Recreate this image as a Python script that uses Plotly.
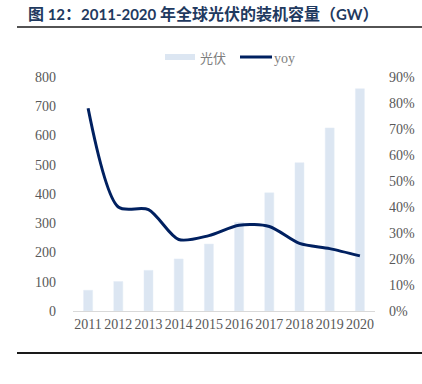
import plotly.graph_objects as go

years = ["2011", "2012", "2013", "2014", "2015", "2016", "2017", "2018", "2019", "2020"]
capacity_gw = [71, 101, 139, 178, 229, 303, 404, 507, 626, 760]
yoy_pct = [78, 40, 39, 27.5, 29, 33, 32.5, 26, 24, 21.2]
left_ticks = [0, 100, 200, 300, 400, 500, 600, 700, 800]
right_ticks = [0, 10, 20, 30, 40, 50, 60, 70, 80, 90]

BAR_COLOR = "#dce6f2"
LINE_COLOR = "#002060"
tick_font = dict(family="Liberation Serif", size=14, color="#595959")

fig = go.Figure()
fig.add_trace(go.Bar(
    x=years, y=capacity_gw, name="光伏",
    marker=dict(color=BAR_COLOR), width=0.3, yaxis="y",
))
fig.add_trace(go.Scatter(
    x=years, y=yoy_pct, name="yoy", mode="lines",
    line=dict(color=LINE_COLOR, width=3, shape="spline", smoothing=0.8),
    yaxis="y2",
))

fig.update_layout(
    width=422, height=384,
    margin=dict(l=73, r=47, t=77, b=73, autoexpand=False),
    paper_bgcolor="white", plot_bgcolor="white",
    showlegend=False,
    xaxis=dict(type="category", tickfont=tick_font, showline=True, linecolor="#d9d9d9",
               linewidth=1, ticks="", showgrid=False, automargin=False),
    yaxis=dict(range=[0, 800], tickvals=left_ticks, ticktext=[str(v) for v in left_ticks],
               tickfont=tick_font, showgrid=False, zeroline=False, showline=False, ticks="",
               ticklabelstandoff=16, automargin=False),
    yaxis2=dict(range=[0, 90], tickvals=right_ticks, ticktext=[f"{v}%" for v in right_ticks],
                tickfont=tick_font, overlaying="y", side="right", showgrid=False,
                zeroline=False, showline=False, ticks="", ticklabelstandoff=13, automargin=False),
)

# legend drawn manually (wide bar swatch like the original)
pw = 422 - 73 - 47
ph = 384 - 77 - 73
def px(x):
    return (x - 73) / pw
def py(y):
    return (311 - y) / ph

fig.add_shape(type="rect", xref="paper", yref="paper", x0=px(165), x1=px(195), y0=py(60), y1=py(54),
              fillcolor=BAR_COLOR, line=dict(width=0))
fig.add_annotation(text="光伏", xref="paper", yref="paper", x=px(198), y=py(57), xanchor="left",
                   yanchor="middle", showarrow=False,
                   font=dict(family="Noto Sans CJK SC", size=13, color="#7f7f7f"))
fig.add_shape(type="line", xref="paper", yref="paper", x0=px(240), x1=px(272), y0=py(57), y1=py(57),
              line=dict(color=LINE_COLOR, width=3))
fig.add_annotation(text="yoy", xref="paper", yref="paper", x=px(272), y=py(58), xanchor="left",
                   yanchor="middle", showarrow=False,
                   font=dict(family="Liberation Serif", size=14, color="#7f7f7f"))

lat = '<span style="font-family:Lato;font-size:15px">'
title = ("<b>图" + lat + " 12</span>：" + lat + "2011-2020 </span>年全球光伏的装机容量（"
         + lat + "GW</span>）</b>")
fig.add_annotation(
    text=title,
    xref="paper", yref="paper", x=px(26), y=py(13), xanchor="left", yanchor="middle",
    showarrow=False,
    font=dict(family="Noto Sans CJK SC", size=16, color="#1f3a60"),
)
fig.add_shape(type="line", xref="paper", yref="paper", x0=px(17), x1=px(422), y0=py(27), y1=py(27),
              line=dict(color="#1a1a1a", width=1.5))
fig.add_shape(type="line", xref="paper", yref="paper", x0=px(17), x1=px(422), y0=py(353), y1=py(353),
              line=dict(color="#1a1a1a", width=2))

fig.write_html("out.html", config={"displayModeBar": False},
               post_script="document.body.style.margin='0px';document.body.style.overflow='hidden';")
